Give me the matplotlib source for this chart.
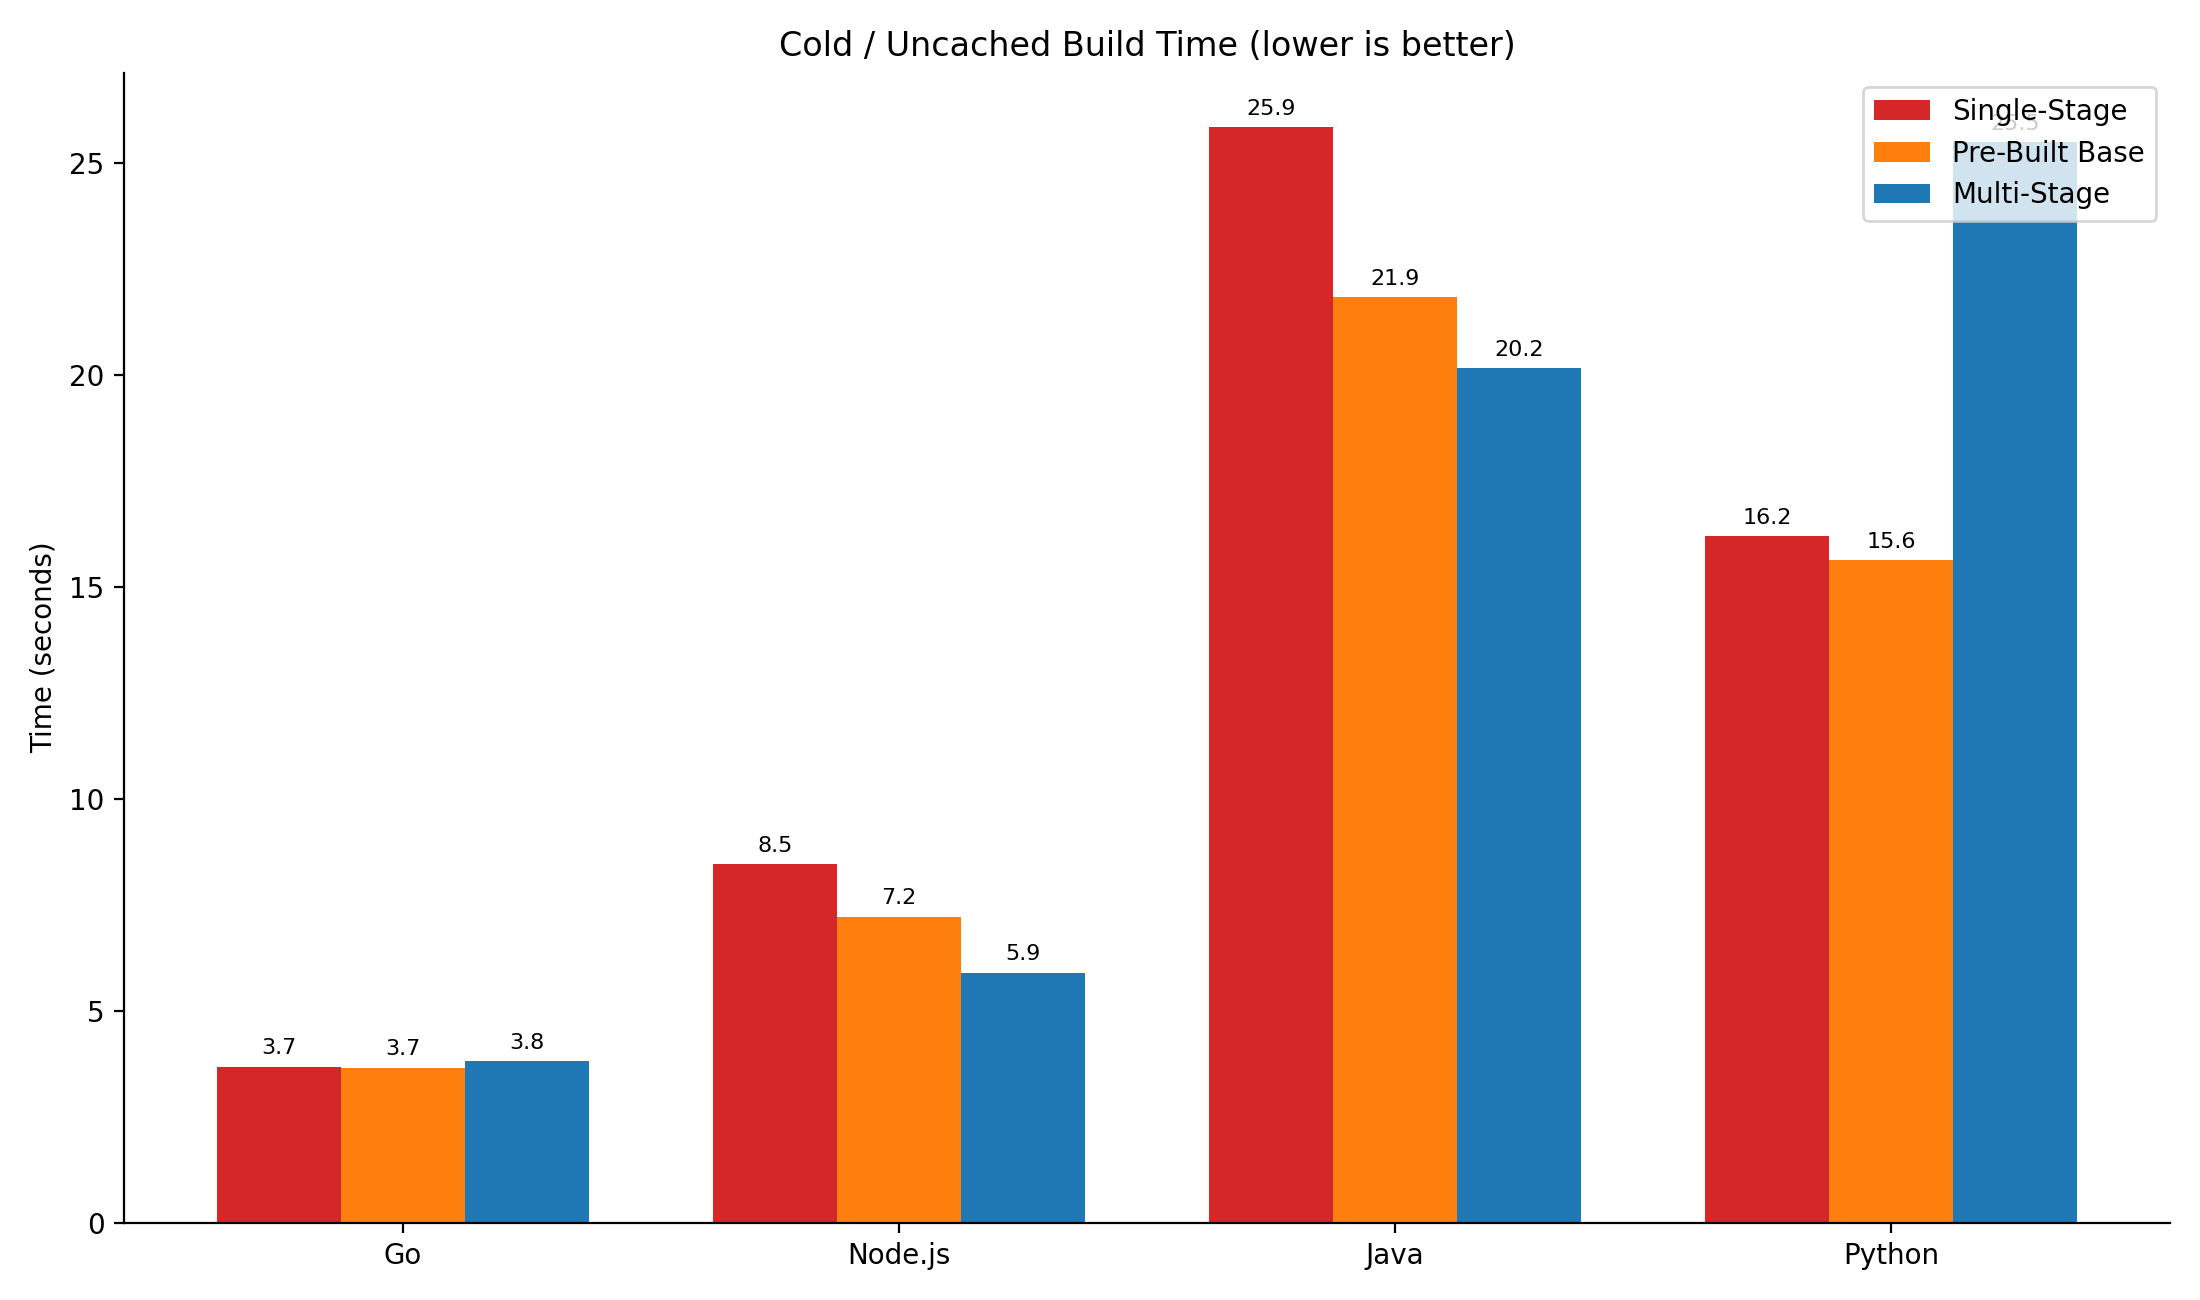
import numpy as np
import matplotlib
matplotlib.use("Agg")
import matplotlib.pyplot as plt

# build times in seconds
langs = ["Go", "Node.js", "Java", "Python"]
series = ["Single-Stage", "Pre-Built Base", "Multi-Stage"]
single_stage = [3.68, 8.46, 25.85, 16.2]
prebuilt_base = [3.66, 7.22, 21.85, 15.64]
multi_stage = [3.81, 5.9, 20.17, 25.5]
colors = ["#d62728", "#ff7f0e", "#1f77b4"]

fig, ax = plt.subplots(figsize=(11, 6.5), dpi=200)
x = np.arange(len(langs))
w = 0.25

for i, (name, vals) in enumerate(zip(series, [single_stage, prebuilt_base, multi_stage])):
    bars = ax.bar(x + (i - 1) * w, vals, w, label=name, color=colors[i])
    ax.bar_label(bars, labels=["%.1f" % v for v in vals], padding=3, fontsize=8)

ax.set_xticks(x)
ax.set_xticklabels(langs)
ax.set_ylabel("Time (seconds)")
ax.set_title("Cold / Uncached Build Time (lower is better)")
ax.spines["top"].set_visible(False)
ax.spines["right"].set_visible(False)
ax.legend(loc="upper right")

fig.tight_layout()
fig.savefig("out.png")
